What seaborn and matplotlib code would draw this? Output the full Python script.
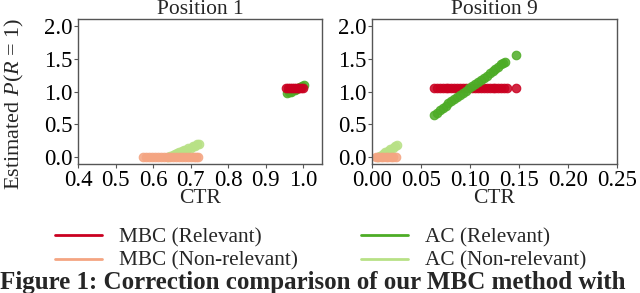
import matplotlib
matplotlib.use('Agg')
import matplotlib.pyplot as plt
import seaborn as sns
from matplotlib.lines import Line2D

# Colours of the four series
c_mbc_rel = '#ca0020'
c_mbc_non = '#f4a582'
c_ac_rel = '#4dac26'
c_ac_non = '#b8e186'

# Position 1
p1_mbc_rel_x = [0.955, 0.960, 0.965, 0.970, 0.975, 0.980, 0.985, 0.990, 0.995, 1.000]
p1_mbc_rel_y = [1.05, 1.05, 1.05, 1.05, 1.05, 1.05, 1.05, 1.05, 1.05, 1.05]
p1_ac_rel_x = [0.957, 0.962, 0.967, 0.972, 0.977, 0.982, 0.987, 0.992, 0.997, 1.001]
p1_ac_rel_y = [0.98, 0.99, 1.00, 1.02, 1.03, 1.04, 1.06, 1.07, 1.08, 1.10]
p1_mbc_non_x = [0.572, 0.580, 0.588, 0.596, 0.604, 0.612, 0.620, 0.628, 0.636, 0.644,
                0.652, 0.660, 0.668, 0.676, 0.684, 0.692, 0.700, 0.708, 0.714, 0.719]
p1_mbc_non_y = [0.0, 0.0, 0.0, 0.0, 0.0, 0.0, 0.0, 0.0, 0.0, 0.0,
                0.0, 0.0, 0.0, 0.0, 0.0, 0.0, 0.0, 0.0, 0.0, 0.0]
p1_ac_non_x = [0.640, 0.646, 0.652, 0.658, 0.664, 0.670, 0.676, 0.682, 0.688, 0.694,
               0.700, 0.706, 0.712, 0.718, 0.722]
p1_ac_non_y = [0.00, 0.02, 0.03, 0.05, 0.06, 0.08, 0.09, 0.11, 0.12, 0.14,
               0.15, 0.17, 0.18, 0.20, 0.21]

# Position 9
p9_mbc_rel_x = [0.063, 0.066, 0.069, 0.072, 0.075, 0.078, 0.081, 0.084, 0.087, 0.090,
                0.093, 0.096, 0.099, 0.102, 0.105, 0.108, 0.111, 0.114, 0.117, 0.120,
                0.123, 0.126, 0.129, 0.132, 0.135, 0.138, 0.147]
p9_mbc_rel_y = [1.05, 1.05, 1.05, 1.05, 1.05, 1.05, 1.05, 1.05, 1.05, 1.05,
                1.05, 1.05, 1.05, 1.05, 1.05, 1.05, 1.05, 1.05, 1.05, 1.05,
                1.05, 1.05, 1.05, 1.05, 1.05, 1.05, 1.05]
p9_ac_rel_x = [0.063, 0.066, 0.069, 0.072, 0.075, 0.078, 0.081, 0.084, 0.087, 0.090,
               0.093, 0.096, 0.099, 0.102, 0.105, 0.108, 0.111, 0.114, 0.117, 0.120,
               0.123, 0.126, 0.129, 0.132, 0.134, 0.136, 0.147]
p9_ac_rel_y = [0.65, 0.68, 0.72, 0.75, 0.78, 0.82, 0.85, 0.88, 0.91, 0.95,
               0.98, 1.01, 1.05, 1.08, 1.11, 1.14, 1.18, 1.21, 1.24, 1.28,
               1.31, 1.34, 1.37, 1.41, 1.43, 1.45, 1.55]
p9_mbc_non_x = [0.004, 0.0065, 0.009, 0.0115, 0.014, 0.0165, 0.019, 0.0215, 0.024]
p9_mbc_non_y = [0.0, 0.0, 0.0, 0.0, 0.0, 0.0, 0.0, 0.0, 0.0]
p9_ac_non_x = [0.006, 0.0085, 0.011, 0.0135, 0.016, 0.0185, 0.021, 0.0235, 0.025]
p9_ac_non_y = [0.00, 0.025, 0.05, 0.075, 0.10, 0.125, 0.15, 0.175, 0.19]

labels = ['MBC (Relevant)', 'MBC (Non-relevant)', 'AC (Relevant)', 'AC (Non-relevant)']

sns.set_style('ticks')
plt.rcParams['font.family'] = ['Liberation Serif', 'DejaVu Serif']
plt.rcParams['mathtext.fontset'] = 'custom'
plt.rcParams['mathtext.rm'] = 'Liberation Serif'
plt.rcParams['mathtext.it'] = 'Liberation Serif:italic'
plt.rcParams['font.size'] = 15
plt.rcParams['axes.edgecolor'] = '#555555'
plt.rcParams['xtick.color'] = '#555555'
plt.rcParams['ytick.color'] = '#555555'
plt.rcParams['xtick.labelcolor'] = 'black'
plt.rcParams['ytick.labelcolor'] = 'black'

fig = plt.figure(figsize=(6.4, 2.93), dpi=100)
ax1 = fig.add_axes([78 / 640, 129 / 293, 244 / 640, 145 / 293])
ax2 = fig.add_axes([372 / 640, 129 / 293, 245 / 640, 145 / 293])

kw = dict(s=38, linewidth=0.8, alpha=0.85)

# Position 1
sns.scatterplot(x=p1_ac_non_x, y=p1_ac_non_y, color=c_ac_non, edgecolor=c_ac_non, ax=ax1, **kw)
sns.scatterplot(x=p1_mbc_non_x, y=p1_mbc_non_y, color=c_mbc_non, edgecolor=c_mbc_non, ax=ax1, **kw)
sns.scatterplot(x=p1_ac_rel_x, y=p1_ac_rel_y, color=c_ac_rel, edgecolor=c_ac_rel, ax=ax1, **kw)
sns.scatterplot(x=p1_mbc_rel_x, y=p1_mbc_rel_y, color=c_mbc_rel, edgecolor=c_mbc_rel, ax=ax1, **kw)

# Position 9
sns.scatterplot(x=p9_ac_non_x, y=p9_ac_non_y, color=c_ac_non, edgecolor=c_ac_non, ax=ax2, **kw)
sns.scatterplot(x=p9_mbc_non_x, y=p9_mbc_non_y, color=c_mbc_non, edgecolor=c_mbc_non, ax=ax2, **kw)
sns.scatterplot(x=p9_mbc_rel_x, y=p9_mbc_rel_y, color=c_mbc_rel, edgecolor=c_mbc_rel, ax=ax2, **kw)
sns.scatterplot(x=p9_ac_rel_x, y=p9_ac_rel_y, color=c_ac_rel, edgecolor=c_ac_rel, ax=ax2, **kw)

ax1.set_xlim(0.4, 1.05)
ax1.set_xticks([0.4, 0.5, 0.6, 0.7, 0.8, 0.9, 1.0])
ax1.set_xticklabels(['0.4', '0.5', '0.6', '0.7', '0.8', '0.9', '1.0'])
ax2.set_xlim(0.0, 0.25)
ax2.set_xticks([0.0, 0.05, 0.10, 0.15, 0.20, 0.25])
ax2.set_xticklabels(['0.00', '0.05', '0.10', '0.15', '0.20', '0.25'])

for ax, title in [(ax1, 'Position 1'), (ax2, 'Position 9')]:
    ax.set_ylim(-0.1, 2.1)
    ax.set_yticks([0.0, 0.5, 1.0, 1.5, 2.0])
    ax.set_yticklabels(['0.0', '0.5', '1.0', '1.5', '2.0'])
    ax.set_title(title, fontsize=15.5, pad=1)
    ax.set_xlabel('CTR', fontsize=15.5, labelpad=-1)
    ax.tick_params(length=3, width=0.8, pad=1, labelsize=16.5)
    for sp in ax.spines.values():
        sp.set_visible(True)
        sp.set_linewidth(1.0)

ax1.set_ylabel('Estimated $P$($R$ = 1)', fontsize=16)
ax1.yaxis.set_label_coords(-0.215, 0.415)

handles = [Line2D([], [], color=c_mbc_rel, lw=2),
           Line2D([], [], color=c_mbc_non, lw=2),
           Line2D([], [], color=c_ac_rel, lw=2),
           Line2D([], [], color=c_ac_non, lw=2)]
fig.legend(handles, labels, ncol=2, loc='upper left', bbox_to_anchor=(55 / 640, 1 - 228 / 293),
           frameon=False, fontsize=15.3, handlelength=2.2, handletextpad=0.8,
           columnspacing=3.0, labelspacing=0.15, borderpad=0, borderaxespad=0)

fig.text(0.0, 1 - 282 / 293, 'Figure 1: Correction comparison of our MBC method with',
         fontsize=18, fontweight='bold', va='center', ha='left')

fig.savefig('out.png', dpi=100)
